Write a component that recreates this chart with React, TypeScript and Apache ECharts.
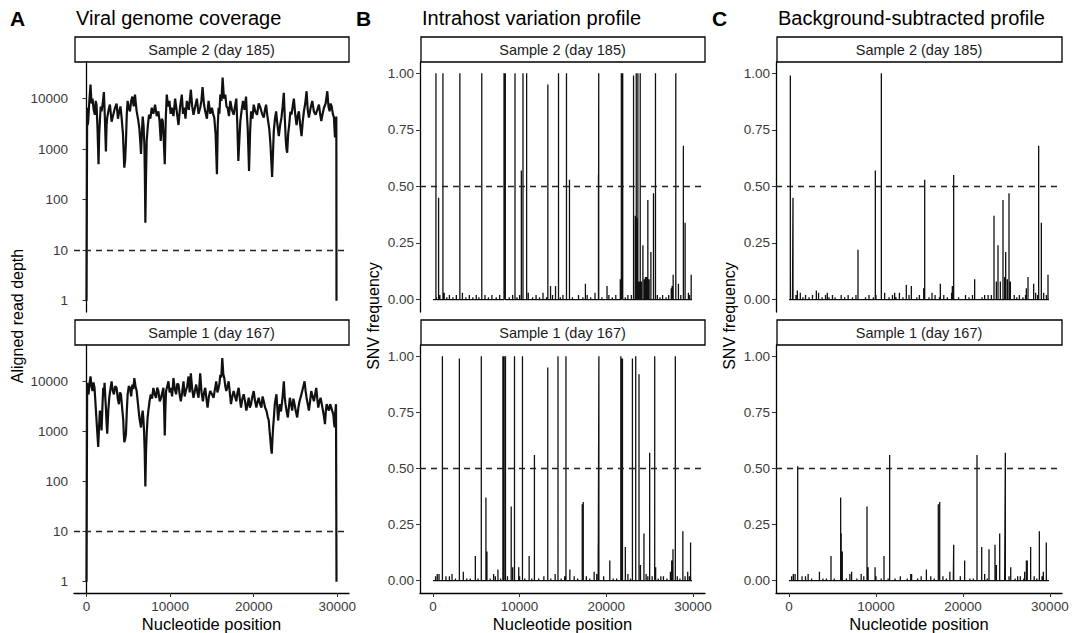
import React, { useEffect, useRef } from "react";
import * as echarts from "echarts";

// ---------------- DATA ----------------
const GENOME_LENGTH = 29903;
const X_MIN = -1495;
const X_MAX = 31395;
const xTicks = [0, 10000, 20000, 30000];
const depthTicks = [1, 10, 100, 1000, 10000];
const freqTicks = [0, 0.25, 0.5, 0.75, 1];
const DEPTH_THRESHOLD = 10;
const FREQ_THRESHOLD = 0.5;

const panelTitles = ["Viral genome coverage", "Intrahost variation profile", "Background-subtracted profile"];
const panelLetters = ["A", "B", "C"];
const sampleLabels = ["Sample 2 (day 185)", "Sample 1 (day 167)"];

// [position, aligned read depth]
const coverageSample2: [number, number][] = [
  [0, 1], [80, 6600], [140, 3000], [200, 3500], [340, 9000], [480, 19000], [600, 8000], [720, 10000],
  [860, 6000], [1000, 4800], [1100, 9000], [1200, 7600], [1320, 2500], [1440, 500], [1520, 2000],
  [1600, 3600], [1700, 7000], [1800, 5600], [1940, 8000], [2080, 13500], [2200, 4000], [2320, 900],
  [2400, 3000], [2480, 4200], [2640, 6000], [2800, 7600], [3000, 3500], [3200, 4800], [3400, 6500],
  [3600, 8000], [3760, 4000], [3920, 5600], [4060, 7000], [4200, 4200], [4360, 2000], [4520, 430],
  [4620, 600], [4720, 1450], [4820, 5000], [4920, 9000], [5060, 6500], [5200, 5600], [5340, 9000],
  [5480, 11000], [5640, 7000], [5800, 12000], [5900, 8000], [6000, 5600], [6160, 4000], [6320, 2600],
  [6420, 1500], [6520, 800], [6620, 2000], [6720, 4400], [6820, 3000], [6920, 1250], [6980, 300],
  [7040, 35], [7120, 300], [7200, 1450], [7340, 3000], [7480, 4800], [7640, 4000], [7800, 6600],
  [8000, 5000], [8200, 7600], [8400, 4500], [8600, 5600], [8740, 3500], [8880, 1450], [9000, 4000],
  [9120, 3600], [9240, 1500], [9360, 500], [9480, 4000], [9600, 12000], [9760, 7000], [9920, 9000],
  [10060, 5000], [10200, 6600], [10400, 4500], [10600, 10000], [10800, 5500], [11000, 3000],
  [11200, 7000], [11400, 12000], [11540, 5000], [11680, 6600], [11840, 4000], [12000, 9000],
  [12240, 6000], [12480, 15000], [12640, 7000], [12800, 4800], [13000, 7000], [13200, 10000],
  [13400, 5000], [13600, 6600], [13740, 9000], [13880, 17000], [14040, 8000], [14200, 5600],
  [14400, 4000], [14600, 9000], [14800, 5000], [15000, 6600], [15140, 5000], [15280, 4200],
  [15440, 2000], [15600, 320], [15700, 3000], [15800, 6600], [15900, 5000], [16000, 12000],
  [16140, 9000], [16280, 26000], [16440, 10000], [16600, 12000], [16740, 7000], [16880, 6600],
  [17040, 4500], [17200, 9000], [17400, 6000], [17600, 4800], [17760, 7000], [17920, 10000],
  [18040, 3000], [18160, 580], [18280, 1500], [18400, 3600], [18560, 6000], [18720, 9000],
  [18900, 6000], [19080, 11000], [19180, 5000], [19280, 2600], [19360, 1000], [19440, 370],
  [19560, 2000], [19680, 5600], [19840, 4000], [20000, 7600], [20200, 5500], [20400, 4800],
  [20600, 8000], [20800, 6600], [21000, 5000], [21200, 4200], [21340, 6000], [21480, 7600],
  [21600, 5000], [21720, 3600], [21860, 2500], [22000, 1250], [22100, 600], [22200, 280],
  [22300, 800], [22400, 2300], [22540, 4000], [22680, 5600], [22840, 3000], [23000, 1800],
  [23160, 3000], [23320, 4200], [23460, 7000], [23600, 13000], [23720, 4000], [23840, 1450],
  [23920, 1000], [24000, 850], [24120, 2000], [24240, 3000], [24380, 5500], [24520, 4800],
  [24660, 7000], [24800, 10000], [24960, 5000], [25120, 3000], [25260, 4500], [25400, 5600],
  [25560, 3000], [25720, 1800], [25860, 3500], [26000, 5600], [26160, 8000], [26320, 14000],
  [26460, 6000], [26600, 4200], [26800, 6500], [27000, 9000], [27200, 5500], [27400, 4800],
  [27600, 6000], [27800, 7600], [27940, 5000], [28080, 3600], [28240, 5000], [28400, 6600],
  [28600, 8000], [28800, 14000], [28940, 7000], [29080, 5600], [29200, 8000], [29320, 7000],
  [29460, 5000], [29600, 4200], [29660, 2500], [29720, 1700], [29800, 3000], [29880, 4400], [29900, 1],
];

const coverageSample1: [number, number][] = [
  [0, 1], [80, 9300], [160, 6000], [240, 5500], [360, 9000], [480, 12500], [600, 8000], [720, 6400],
  [840, 9500], [960, 7400], [1080, 3500], [1200, 1650], [1300, 900], [1400, 490], [1500, 1200],
  [1600, 2600], [1700, 2000], [1800, 1050], [1900, 3000], [2000, 7400], [2080, 5000], [2160, 9300],
  [2240, 5000], [2320, 3000], [2400, 1500], [2480, 900], [2600, 2500], [2720, 4700], [2860, 7000],
  [3000, 10000], [3140, 6500], [3280, 5500], [3440, 8000], [3600, 7400], [3740, 4500], [3880, 3500],
  [4000, 6000], [4120, 5500], [4260, 3000], [4400, 1650], [4460, 900], [4520, 610], [4620, 700],
  [4720, 900], [4820, 2500], [4920, 5500], [5060, 8000], [5200, 7400], [5340, 5000], [5480, 8600],
  [5600, 7000], [5720, 11600], [5860, 8000], [6000, 6400], [6160, 3500], [6320, 1900], [6420, 1500],
  [6520, 1200], [6620, 2000], [6720, 2600], [6800, 1800], [6880, 1050], [6960, 400], [7040, 80],
  [7120, 400], [7200, 900], [7300, 1800], [7400, 2600], [7540, 4000], [7680, 5500], [7840, 4500],
  [8000, 7400], [8160, 5500], [8320, 4700], [8460, 7500], [8600, 6400], [8760, 4000], [8920, 4700],
  [9060, 6000], [9200, 7400], [9280, 3000], [9360, 830], [9440, 3000], [9520, 6400], [9660, 8000],
  [9800, 10000], [9940, 6000], [10080, 7400], [10240, 5000], [10400, 11600], [10560, 7000],
  [10720, 5500], [10860, 9000], [11000, 8600], [11140, 5500], [11280, 4000], [11440, 6000],
  [11600, 10000], [11740, 5000], [11880, 6400], [12040, 8000], [12200, 12500], [12340, 6000],
  [12480, 14500], [12640, 7000], [12800, 4700], [12960, 6500], [13120, 8600], [13260, 6000],
  [13400, 4700], [13500, 8000], [13600, 14500], [13760, 6000], [13920, 4000], [14060, 6000],
  [14200, 7400], [14340, 4500], [14480, 3000], [14640, 5000], [14800, 6400], [15000, 5500],
  [15200, 4700], [15360, 7000], [15520, 10000], [15660, 6000], [15800, 7400], [15900, 9000],
  [16000, 13500], [16120, 12000], [16240, 29000], [16360, 14000], [16480, 11600], [16600, 8000],
  [16720, 6400], [16860, 8000], [17000, 10000], [17140, 6000], [17280, 3500], [17440, 5000],
  [17600, 6400], [17760, 5000], [17920, 4000], [18060, 6000], [18200, 7400], [18340, 4500],
  [18480, 3000], [18640, 4500], [18800, 5500], [18960, 4000], [19120, 2600], [19260, 3500],
  [19400, 4700], [19540, 3000], [19680, 3500], [19840, 5000], [20000, 6400], [20160, 4000],
  [20320, 3000], [20460, 4000], [20600, 4700], [20760, 3500], [20920, 3000], [21060, 5000],
  [21200, 4000], [21360, 3000], [21520, 2600], [21660, 2000], [21800, 1650], [21900, 1000],
  [22000, 660], [22080, 450], [22160, 360], [22240, 700], [22320, 1200], [22420, 2000], [22520, 3500],
  [22620, 4500], [22720, 5500], [22820, 3000], [22920, 1650], [23020, 2500], [23120, 3500],
  [23260, 2500], [23400, 4000], [23500, 6000], [23600, 10000], [23700, 5000], [23800, 3500],
  [23940, 2500], [24080, 1900], [24200, 3000], [24320, 4700], [24460, 3500], [24600, 2600],
  [24740, 4500], [24880, 3500], [25040, 2500], [25200, 1900], [25340, 3000], [25480, 4000],
  [25640, 5000], [25800, 6400], [25940, 8000], [26080, 10000], [26200, 6500], [26320, 4700],
  [26460, 3500], [26600, 2600], [26740, 4000], [26880, 6400], [27040, 5000], [27200, 4000],
  [27340, 5500], [27480, 7400], [27600, 4500], [27720, 3000], [27860, 4000], [28000, 4700],
  [28140, 3500], [28280, 2600], [28400, 2000], [28520, 1400], [28620, 2500], [28720, 3500],
  [28860, 3000], [29000, 2600], [29140, 3500], [29280, 3000], [29400, 2500], [29520, 2200],
  [29600, 1500], [29680, 1200], [29760, 2500], [29840, 3500], [29900, 1],
];

// [position, SNV frequency]
const snvSample2: [number, number][] = [
  [345, 1.0], [650, 0.45], [1150, 1.0], [3105, 1.0], [5635, 1.0], [8200, 1.0], [8280, 1.0], [8350, 1.0],
  [9470, 1.0], [10200, 0.57], [10390, 1.0], [10810, 1.0], [13260, 0.95], [13570, 0.06], [14145, 0.06],
  [14490, 1.0], [15410, 1.0], [15755, 0.53], [17595, 0.07], [19100, 0.55], [19130, 1.0], [20090, 0.06],
  [21620, 0.09], [21740, 1.0], [21820, 1.0], [21900, 1.0], [23150, 0.99], [23350, 0.37], [23460, 1.0],
  [23560, 0.36], [23650, 1.0], [23780, 0.08], [23920, 1.0], [24050, 0.08], [24230, 0.24], [24400, 0.09],
  [24520, 0.1], [24650, 0.1], [24800, 0.44], [24950, 0.09], [25150, 0.21], [25450, 0.47], [25680, 1.0],
  [27500, 0.05], [27600, 0.06], [27720, 0.11], [28025, 1.0], [28330, 0.07], [28900, 0.68], [29100, 0.34],
  [29480, 0.03], [29800, 0.11],
];

const subtractedSample2: [number, number][] = [
  [153, 0.99], [460, 0.45], [958, 0.04], [3143, 0.04], [4408, 0.03], [7935, 0.22], [9928, 0.57],
  [10618, 1.0], [12150, 0.03], [13490, 0.065], [14068, 0.06], [15490, 0.05], [15605, 0.53], [16445, 0.03],
  [17403, 0.07], [18783, 0.06], [18937, 0.55], [21352, 0.09], [23268, 0.02], [23575, 0.37], [23843, 0.08],
  [24035, 0.24], [24303, 0.08], [24610, 0.44], [24802, 0.1], [24918, 0.21], [25108, 0.09], [25300, 0.47],
  [25453, 0.08], [27293, 0.05], [27485, 0.1], [28137, 0.07], [28367, 0.03], [28712, 0.68], [29018, 0.34],
  [29287, 0.03], [29785, 0.11],
];

const snvSample1: [number, number][] = [
  [1090, 1.0], [3050, 0.99], [4890, 0.11], [5580, 1.0], [6115, 0.37], [6230, 0.13], [7200, 0.02],
  [7500, 0.05], [8070, 1.0], [8200, 1.0], [8370, 1.0], [9030, 0.33], [9200, 0.06], [9410, 1.0],
  [9900, 0.06], [10330, 1.0], [11100, 0.11], [11710, 0.56], [13250, 0.95], [14430, 1.0], [15350, 1.0],
  [15800, 0.05], [17230, 0.34], [17345, 0.35], [18600, 0.04], [19070, 0.16], [19150, 1.0], [20410, 0.09],
  [21680, 1.0], [21780, 0.99], [21870, 0.99], [22200, 0.15], [23020, 0.99], [23400, 1.0], [23780, 0.92],
  [23950, 0.07], [24350, 0.21], [24600, 0.03], [25010, 0.57], [25590, 1.0], [25700, 0.06], [27400, 0.04],
  [27550, 0.09], [27700, 0.14], [27970, 1.0], [28840, 0.22], [29400, 0.04], [29730, 0.17],
];

const subtractedSample1: [number, number][] = [
  [1000, 0.51], [4830, 0.11], [5940, 0.37], [6000, 0.21], [6130, 0.13], [7200, 0.04], [8300, 0.03],
  [8970, 0.33], [9100, 0.06], [9900, 0.06], [10925, 0.11], [11575, 0.56], [14000, 0.03], [15800, 0.05],
  [17170, 0.34], [17330, 0.35], [18500, 0.04], [18940, 0.16], [20200, 0.09], [21620, 0.56], [22160, 0.15],
  [23000, 0.14], [23690, 0.16], [23850, 0.07], [24230, 0.21], [24880, 0.57], [25500, 0.06], [27100, 0.04],
  [27300, 0.09], [27400, 0.09], [27790, 0.15], [28790, 0.22], [29250, 0.04], [29590, 0.17],
];

// low-level background frequencies
const noiseSample2: [number, number][] = [
  [400, 0.01], [800, 0.02], [1300, 0.03], [1600, 0.01], [1900, 0.02], [2300, 0.01], [2700, 0.02],
  [3400, 0.03], [3800, 0.01], [4200, 0.02], [4600, 0.01], [5000, 0.02], [5300, 0.01], [6000, 0.02],
  [6400, 0.01], [6800, 0.02], [7300, 0.01], [7700, 0.02], [8800, 0.01], [9200, 0.02], [9700, 0.01],
  [10000, 0.02], [11000, 0.03], [11500, 0.01], [11900, 0.02], [12300, 0.01], [12700, 0.03], [13100, 0.01],
  [13800, 0.02], [14700, 0.01], [15000, 0.02], [16100, 0.01], [16800, 0.02], [17300, 0.01], [17800, 0.02],
  [18200, 0.01], [18700, 0.03], [19500, 0.01], [20300, 0.02], [20700, 0.01], [21100, 0.02], [22200, 0.01],
  [22500, 0.02], [22900, 0.02], [25900, 0.02], [26200, 0.01], [26500, 0.02], [26900, 0.01], [27200, 0.02],
  [28600, 0.02], [29600, 0.02],
];

const noiseSample1: [number, number][] = [
  [300, 0.02], [500, 0.03], [700, 0.03], [1500, 0.02], [1900, 0.02], [2200, 0.03], [2600, 0.01],
  [3500, 0.04], [3900, 0.01], [4300, 0.01], [5200, 0.01], [6600, 0.01], [7000, 0.03], [7800, 0.01],
  [8600, 0.02], [10000, 0.02], [10600, 0.01], [11400, 0.01], [12200, 0.01], [12800, 0.02], [13600, 0.01],
  [14100, 0.03], [14800, 0.01], [15200, 0.02], [16300, 0.02], [16700, 0.01], [17700, 0.02], [18100, 0.01],
  [18900, 0.03], [19700, 0.02], [20800, 0.01], [21200, 0.01], [22500, 0.03], [22800, 0.01], [24800, 0.02],
  [25300, 0.02], [26000, 0.01], [26300, 0.02], [26600, 0.02], [27000, 0.01], [28200, 0.02], [28500, 0.01],
  [29100, 0.02], [29600, 0.02],
];

// ---------------- LAYOUT ----------------
const FONT = '"Liberation Sans", Arial, Helvetica, sans-serif';
const columns = [
  { left: 74, width: 275 },
  { left: 420, width: 285 },
  { left: 776, width: 286 },
];
const rows = [
  { top: 62, height: 250 },
  { top: 345, height: 250 },
];
const STRIP_H = 25;

function spikeProfile(main: [number, number][], noise: [number, number][]) {
  const all = [...main, ...noise].sort((a, b) => a[0] - b[0]);
  const out: [number, number][] = [[0, 0]];
  for (const [p, f] of all) {
    out.push([p, 0], [p, f], [p, 0]);
  }
  out.push([GENOME_LENGTH, 0]);
  return out;
}

export default function App() {
  const ref = useRef<HTMLDivElement>(null);

  useEffect(() => {
    if (!ref.current) return;
    const chart = echarts.init(ref.current, undefined, { renderer: "svg" });

    const grids: any[] = [];
    const xAxes: any[] = [];
    const yAxes: any[] = [];
    const series: any[] = [];
    const graphics: any[] = [];

    const tickLabelStyle = { fontFamily: FONT, fontSize: 13.5, color: "#3a3a3a" };

    const datasets = [
      [coverageSample2, coverageSample1],
      [spikeProfile(snvSample2, noiseSample2), spikeProfile(snvSample1, noiseSample1)],
      [spikeProfile(subtractedSample2, noiseSample2), spikeProfile(subtractedSample1, noiseSample1)],
    ];

    columns.forEach((col, c) => {
      rows.forEach((row, r) => {
        const idx = grids.length;
        grids.push({ left: col.left, top: row.top, width: col.width, height: row.height, containLabel: false });
        const isBottom = r === 1;
        xAxes.push({
          type: "value",
          gridIndex: idx,
          min: X_MIN,
          max: X_MAX,
          show: isBottom,
          splitLine: { show: false },
          axisLine: { show: true, onZero: false, lineStyle: { color: "#000", width: 1.3 } },
          axisTick: { show: true, length: 4, customValues: xTicks, lineStyle: { color: "#333", width: 1 } },
          axisLabel: {
            show: true,
            customValues: xTicks,
            margin: 6,
            formatter: (v: number) => String(Math.round(v)),
            ...tickLabelStyle,
          },
          name: isBottom ? "Nucleotide position" : "",
          nameLocation: "middle",
          nameGap: 22,
          nameTextStyle: { fontFamily: FONT, fontSize: 16.5, color: "#000" },
        });
        if (c === 0) {
          yAxes.push({
            type: "log",
            logBase: 10,
            gridIndex: idx,
            min: 0.5957,
            max: 53088,
            splitLine: { show: false },
            axisLine: { show: true, lineStyle: { color: "#000", width: 1.3 } },
            axisTick: { show: true, length: 4, customValues: depthTicks, lineStyle: { color: "#333", width: 1 } },
            axisLabel: {
              show: true,
              customValues: depthTicks,
              margin: 6,
              formatter: (v: number) => String(Math.round(v)),
              ...tickLabelStyle,
            },
          });
        } else {
          yAxes.push({
            type: "value",
            gridIndex: idx,
            min: -0.055,
            max: 1.05,
            splitLine: { show: false },
            axisLine: { show: true, onZero: false, lineStyle: { color: "#000", width: 1.3 } },
            axisTick: { show: true, length: 4, customValues: freqTicks, lineStyle: { color: "#333", width: 1 } },
            axisLabel: {
              show: true,
              customValues: freqTicks,
              margin: 6,
              formatter: (v: number) => v.toFixed(2),
              ...tickLabelStyle,
            },
          });
        }
        series.push({
          type: "line",
          xAxisIndex: idx,
          yAxisIndex: idx,
          data: datasets[c][r],
          showSymbol: false,
          symbol: "none",
          silent: true,
          lineStyle: { color: "#111", width: c === 0 ? 2.2 : 1.3 },
          markLine: {
            silent: true,
            symbol: "none",
            label: { show: false },
            lineStyle: { color: "#222", type: [6, 5], width: 1.3 },
            data: [{ yAxis: c === 0 ? DEPTH_THRESHOLD : FREQ_THRESHOLD }],
          },
        });

        // facet strip
        graphics.push({
          type: "rect",
          shape: { x: col.left + 1, y: row.top - STRIP_H, width: col.width - 1, height: STRIP_H },
          style: { fill: "#fff", stroke: "#000", lineWidth: 1.3 },
        });
        graphics.push({
          type: "text",
          x: col.left + col.width / 2,
          y: row.top - STRIP_H / 2,
          style: {
            text: sampleLabels[r],
            fontFamily: FONT,
            fontSize: 14.5,
            fill: "#1a1a1a",
            align: "center",
            verticalAlign: "middle",
          },
        });
      });

      // panel letter & title
      graphics.push({
        type: "text",
        x: col.left - 64,
        y: 18,
        style: { text: panelLetters[c], fontFamily: FONT, fontSize: 21, fontWeight: "bold", fill: "#000", align: "left", verticalAlign: "middle" },
      });
      graphics.push({
        type: "text",
        x: col.left + 2,
        y: 18,
        style: { text: panelTitles[c], fontFamily: FONT, fontSize: 20, fill: "#000", align: "left", verticalAlign: "middle" },
      });
      // y axis title
      graphics.push({
        type: "text",
        x: c === 0 ? 17 : col.left - 47,
        y: 316,
        rotation: Math.PI / 2,
        style: {
          text: c === 0 ? "Aligned read depth" : "SNV frequency",
          fontFamily: FONT,
          fontSize: 16,
          fill: "#000",
          align: "center",
          verticalAlign: "middle",
        },
      });
    });

    chart.setOption({
      animation: false,
      backgroundColor: "#fff",
      grid: grids,
      xAxis: xAxes,
      yAxis: yAxes,
      series,
      graphic: { elements: graphics },
    });

    return () => chart.dispose();
  }, []);

  return (
    <div
      ref={ref}
      style={{ position: "absolute", left: 0, top: 0, width: 1074, height: 633, background: "#fff" }}
    />
  );
}
